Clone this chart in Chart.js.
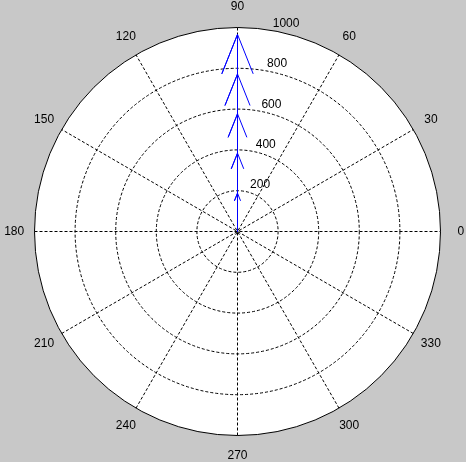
<!DOCTYPE html>
<html>
<head>
<meta charset="utf-8">
<script src="https://cdn.jsdelivr.net/npm/chart.js@4"></script>
<style>
  html, body { margin: 0; padding: 0; background: #c8c8c8; }
  #chart { display: block; }
</style>
</head>
<body>
<canvas id="chart" width="466" height="462"></canvas>
<script>
// Compass arrows (all pointing at 90 degrees)
const arrowAngles = [90, 90, 90, 90, 90];
const arrowLengths = [188, 384, 577, 772, 966];

// Polar grid
const rMax = 1000;
const ringTicks = [200, 400, 600, 800, 1000];
const spokeAngles = [0, 30, 60, 90, 120, 150, 180, 210, 240, 270, 300, 330];

const arrowColor = '#0000ff';
const fontSpec = '12px "Liberation Sans", Arial, sans-serif';

// compass arrow shape: along-axis / across-axis fractions (MATLAB style)
const headAlong = [0, 1, 0.8, 1, 0.8];
const headAcross = [0, 0, 0.08, 0, -0.08];

function arrowPoints(len, deg) {
  const t = deg * Math.PI / 180;
  const c = Math.cos(t), s = Math.sin(t);
  return headAlong.map((z, i) => {
    const a = headAcross[i];
    return { x: len * (z * c - a * s), y: len * (z * s + a * c) };
  });
}

const datasets = arrowLengths.map((len, i) => ({
  data: arrowPoints(len, arrowAngles[i]),
  showLine: true,
  borderColor: arrowColor,
  borderWidth: 1,
  pointRadius: 0,
  fill: false,
  tension: 0,
}));

// ─── Polar grid drawn through the x/y scales ─────────────────────────────────
const polarGrid = {
  id: 'polarGrid',
  beforeDatasetsDraw(chart) {
    const { ctx, scales: { x, y } } = chart;
    const cx = x.getPixelForValue(0), cy = y.getPixelForValue(0);
    const rx = v => x.getPixelForValue(v) - cx;
    const ry = v => cy - y.getPixelForValue(v);

    ctx.save();
    // white disc with solid rim
    ctx.beginPath();
    ctx.ellipse(cx, cy, rx(rMax), ry(rMax), 0, 0, Math.PI * 2);
    ctx.fillStyle = '#ffffff';
    ctx.fill();
    ctx.lineWidth = 1;
    ctx.strokeStyle = '#000000';
    ctx.stroke();

    // dashed rings
    ctx.setLineDash([3, 2]);
    ringTicks.slice(0, -1).forEach(r => {
      ctx.beginPath();
      ctx.ellipse(cx, cy, rx(r), ry(r), 0, 0, Math.PI * 2);
      ctx.stroke();
    });

    // dashed spokes, rim to rim
    for (let k = 0; k < 6; k++) {
      const t = spokeAngles[k] * Math.PI / 180;
      const dx = rMax * Math.cos(t), dy = rMax * Math.sin(t);
      ctx.beginPath();
      ctx.moveTo(x.getPixelForValue(-dx), y.getPixelForValue(-dy));
      ctx.lineTo(x.getPixelForValue(dx), y.getPixelForValue(dy));
      ctx.stroke();
    }
    ctx.setLineDash([]);

    // angle labels at 1.1 * rMax
    ctx.fillStyle = '#000000';
    ctx.font = fontSpec;
    ctx.textAlign = 'center';
    ctx.textBaseline = 'middle';
    spokeAngles.forEach(a => {
      const t = a * Math.PI / 180;
      ctx.fillText(String(a),
        x.getPixelForValue(1.1 * rMax * Math.cos(t)),
        y.getPixelForValue(1.1 * rMax * Math.sin(t)));
    });

    // ring labels along 82 degrees
    const t82 = 82 * Math.PI / 180;
    const rinc = ringTicks[0];
    ctx.textAlign = 'left';
    ctx.textBaseline = 'bottom';
    ringTicks.forEach(r => {
      const rr = r + rinc / 20;
      ctx.fillText('  ' + r,
        x.getPixelForValue(rr * Math.cos(t82)),
        y.getPixelForValue(rr * Math.sin(t82)) + 2);
    });
    ctx.restore();
  }
};

new Chart(document.getElementById('chart'), {
  type: 'scatter',
  data: { datasets },
  options: {
    responsive: false,
    animation: false,
    layout: { padding: { left: 34.5, right: 25.5, top: 27.5, bottom: 26.5 } },
    plugins: { legend: { display: false }, tooltip: { enabled: false } },
    scales: {
      x: { type: 'linear', min: -rMax, max: rMax, display: false },
      y: { type: 'linear', min: -rMax, max: rMax, display: false },
    },
  },
  plugins: [polarGrid],
});
</script>
</body>
</html>
